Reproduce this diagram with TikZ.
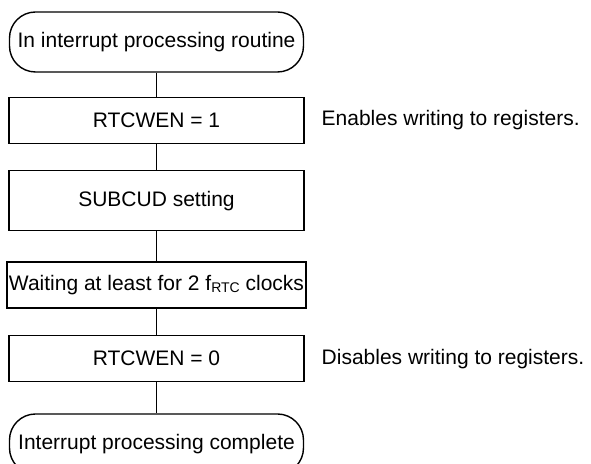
\documentclass[tikz,border=0pt]{standalone}
\usepackage{fontspec}
\setmainfont{Liberation Sans}
\usetikzlibrary{positioning}

\begin{document}
\begin{tikzpicture}[
  font=\fontsize{10.5}{12.6}\selectfont,
  term/.style={draw,line width=0.7pt,rounded corners=13pt,
               minimum width=147pt,minimum height=30pt,inner sep=1pt},
  proc/.style={draw,line width=0.7pt,
               minimum width=147.5pt,minimum height=23pt,inner sep=1pt},
  conn/.style={line width=0.7pt},
  note/.style={inner sep=0pt}
]
  \useasboundingbox (-78.25pt,21pt) rectangle (217.25pt,-211pt);
  \node[term] (start) {In interrupt processing routine};
  \node[proc,below=12pt of start] (wen1) {RTCWEN = 1};
  \node[proc,below=13pt of wen1,minimum height=30pt] (subcud) {SUBCUD setting};
  \node[proc,below=15pt of subcud] (wait) {Waiting at least for 2 f\raisebox{-0.2ex}{\scriptsize RTC} clocks};
  \node[proc,below=13pt of wait] (wen0) {RTCWEN = 0};
  \node[term,below=15.5pt of wen0] (done) {Interrupt processing complete};

  \node[note,right=8.3pt of wen1] (en) {Enables writing to registers.};
  \node[note,right=8.3pt of wen0] (dis) {Disables writing to registers.};

  \draw[conn] (start)--(wen1);
  \draw[conn] (wen1)--(subcud);
  \draw[conn] (subcud)--(wait);
  \draw[conn] (wait)--(wen0);
  \draw[conn] (wen0)--(done);
\end{tikzpicture}
\end{document}
